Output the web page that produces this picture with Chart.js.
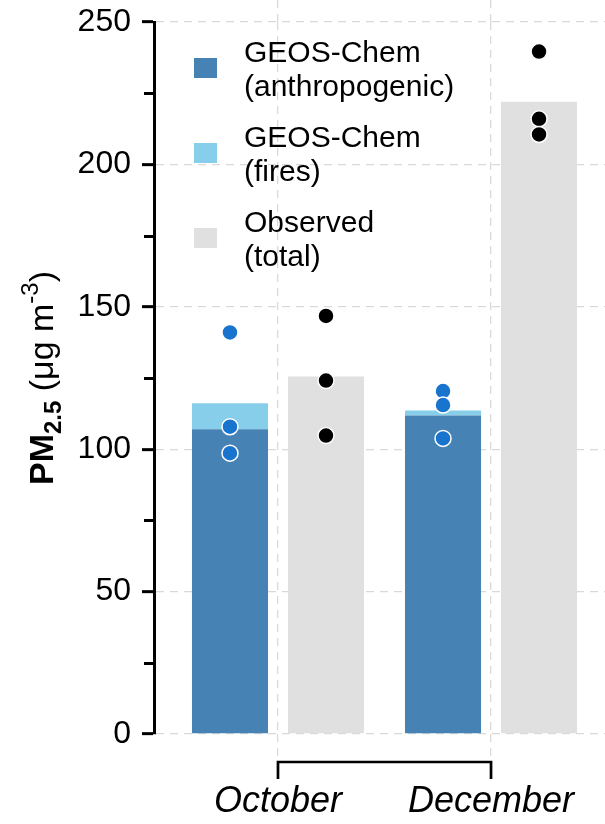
<!DOCTYPE html>
<html>
<head>
<meta charset="utf-8">
<script src="https://cdn.jsdelivr.net/npm/chart.js@4.4.0/dist/chart.umd.min.js"></script>
<style>
  html, body { margin: 0; padding: 0; background: #fff; }
</style>
</head>
<body>
<canvas id="grafico" width="605" height="824"></canvas>
<script>
// Datos
const meses = ['October', 'December'];
const posMes = [1, 2];
const antropogenico = [107.0, 111.8];
const incendios = [9.1, 1.8];
const observado = [125.5, 222.0];
const puntosModelo = [[141.0, 107.9, 98.6], [120.4, 115.5, 103.8]];
const puntosObs = [[146.8, 124.1, 104.8], [239.6, 216.0, 210.5]];
const ticksY = [0, 50, 100, 150, 200, 250];
const ticksMenoresY = [25, 75, 125, 175, 225];
const etiquetasLeyenda = [['GEOS-Chem', '(anthropogenic)'], ['GEOS-Chem', '(fires)'], ['Observed', '(total)']];

// Colores
const colAntro = '#4682B4';
const colFuego = '#87CEEB';
const colObs = '#E0E0E0';
const colPuntoModelo = '#1874CD';
const colGrid = '#d9d9d9';
const FUENTE = '"Liberation Sans", Arial, Helvetica, sans-serif';

// Geometría de las barras (agrupadas: modelo / observado)
const CAT_PCT = 0.9014;
const BAR_PCT = 0.7917;
const desplaz = CAT_PCT / 4;

const xModelo = [];
const xObs = [];
puntosModelo.forEach((lista, i) => lista.forEach(v => xModelo.push({ x: posMes[i] - desplaz, y: v })));
puntosObs.forEach((lista, i) => lista.forEach(v => xObs.push({ x: posMes[i] + desplaz, y: v })));

const barras = (valores) => valores.map((v, i) => ({ x: posMes[i], y: v }));

// Sin relleno automático de las escalas (el área queda fija)
const sinPadding = s => {
    s.paddingTop = 0;
    s.paddingBottom = 0;
    s.paddingLeft = 0;
    s.paddingRight = 0;
};

// Plugin: título del eje Y, leyenda, corchete del eje X y ticks menores
const decoracion = {
    id: 'decoracion',
    afterDraw(chart) {
        const { ctx, chartArea, scales } = chart;
        ctx.save();

        // ticks menores del eje Y
        ctx.strokeStyle = '#000';
        ctx.lineWidth = 3;
        ticksMenoresY.forEach(v => {
            const y = Math.round(scales.y.getPixelForValue(v)) + 0.5;
            ctx.beginPath();
            ctx.moveTo(chartArea.left - 10, y);
            ctx.lineTo(chartArea.left, y);
            ctx.stroke();
        });

        // corchete debajo del área
        const x1 = scales.x.getPixelForValue(posMes[0]);
        const x2 = scales.x.getPixelForValue(posMes[posMes.length - 1]);
        const yc = chartArea.bottom + 28;
        ctx.lineWidth = 2.7;
        ctx.lineJoin = 'miter';
        ctx.beginPath();
        ctx.moveTo(x1, yc + 17);
        ctx.lineTo(x1, yc);
        ctx.lineTo(x2, yc);
        ctx.lineTo(x2, yc + 17);
        ctx.stroke();

        // leyenda
        const colores = [colAntro, colFuego, colObs];
        ctx.font = '30px ' + FUENTE;
        ctx.textAlign = 'left';
        ctx.textBaseline = 'alphabetic';
        etiquetasLeyenda.forEach((lineas, i) => {
            const cy = chartArea.top + 46 + i * 85;
            ctx.fillStyle = colores[i];
            ctx.fillRect(chartArea.left + 40, cy - 10, 23, 20);
            ctx.fillStyle = '#000';
            ctx.fillText(lineas[0], chartArea.left + 90, cy - 6.5);
            ctx.fillText(lineas[1], chartArea.left + 90, cy + 28);
        });

        // título del eje Y con subíndice y superíndice
        const partes = [
            { t: 'PM', f: 'bold 34px ', dy: 0 },
            { t: '2.5', f: 'bold 24px ', dy: 8 },
            { t: ' (μg m', f: '34px ', dy: 0 },
            { t: '-3', f: '24px ', dy: -15 },
            { t: ')', f: '34px ', dy: 0 }
        ];
        let total = 0;
        partes.forEach(p => { ctx.font = p.f + FUENTE; p.w = ctx.measureText(p.t).width; total += p.w; });
        ctx.translate(53, (chartArea.top + chartArea.bottom) / 2);
        ctx.rotate(-Math.PI / 2);
        let x = -total / 2;
        partes.forEach(p => {
            ctx.font = p.f + FUENTE;
            ctx.fillText(p.t, x, p.dy);
            x += p.w;
        });
        ctx.restore();
    }
};

const ejeX = (posicion) => ({
    type: 'linear',
    position: posicion,
    min: 0.418,
    max: 2.535,
    offset: false,
    afterBuildTicks: s => { s.ticks = posMes.map(v => ({ value: v })); },
    afterFit: s => { s.height = posicion === 'bottom' ? 90 : 22; sinPadding(s); },
    ticks: {
        display: posicion === 'bottom',
        color: '#000',
        padding: 22,
        maxRotation: 0,
        autoSkip: false,
        font: { family: FUENTE, size: 36, style: 'italic' },
        callback: v => meses[posMes.indexOf(v)] || ''
    },
    grid: {
        offset: false,
        color: colGrid,
        lineWidth: 1.3,
        drawOnChartArea: posicion === 'bottom',
        tickLength: posicion === 'bottom' ? 24 : 22,
        tickColor: colGrid,
        tickWidth: 1.3,
        tickBorderDash: [8, 6]
    },
    border: { display: false, dash: [8, 6] }
});

new Chart(document.getElementById('grafico'), {
    type: 'bar',
    data: {
        datasets: [
            {
                type: 'scatter', label: 'GEOS-Chem sitios', data: xModelo, order: 0,
                backgroundColor: colPuntoModelo, borderColor: '#fff',
                pointRadius: 8, pointBorderWidth: 1.5, pointHoverRadius: 8
            },
            {
                type: 'scatter', label: 'Observado sitios', data: xObs, order: 0,
                backgroundColor: '#000', borderColor: '#fff',
                pointRadius: 8, pointBorderWidth: 1.5, pointHoverRadius: 8
            },
            { label: etiquetasLeyenda[0].join(' '), data: barras(antropogenico), stack: 'modelo', backgroundColor: colAntro, order: 1 },
            { label: etiquetasLeyenda[1].join(' '), data: barras(incendios), stack: 'modelo', backgroundColor: colFuego, order: 1 },
            { label: etiquetasLeyenda[2].join(' '), data: barras(observado), stack: 'obs', backgroundColor: colObs, order: 1 }
        ]
    },
    options: {
        responsive: false,
        animation: false,
        devicePixelRatio: 1,
        layout: { padding: 0, autoPadding: false },
        datasets: {
            bar: { categoryPercentage: CAT_PCT, barPercentage: BAR_PCT, borderWidth: 0 }
        },
        plugins: {
            legend: { display: false },
            tooltip: { enabled: false }
        },
        scales: {
            x: ejeX('bottom'),
            xTop: ejeX('top'),
            y: {
                type: 'linear',
                min: 0,
                max: 250,
                afterBuildTicks: s => { s.ticks = ticksY.map(v => ({ value: v })); },
                afterFit: s => { s.width = 154; sinPadding(s); },
                ticks: {
                    color: '#000',
                    padding: 11,
                    font: { family: FUENTE, size: 32 }
                },
                grid: {
                    color: colGrid,
                    lineWidth: 1.3,
                    tickLength: 12,
                    tickColor: '#000',
                    tickWidth: 3,
                    tickBorderDash: []
                },
                border: { display: true, color: '#000', width: 3, dash: [8, 6] }
            }
        }
    },
    plugins: [decoracion]
});
</script>
</body>
</html>
